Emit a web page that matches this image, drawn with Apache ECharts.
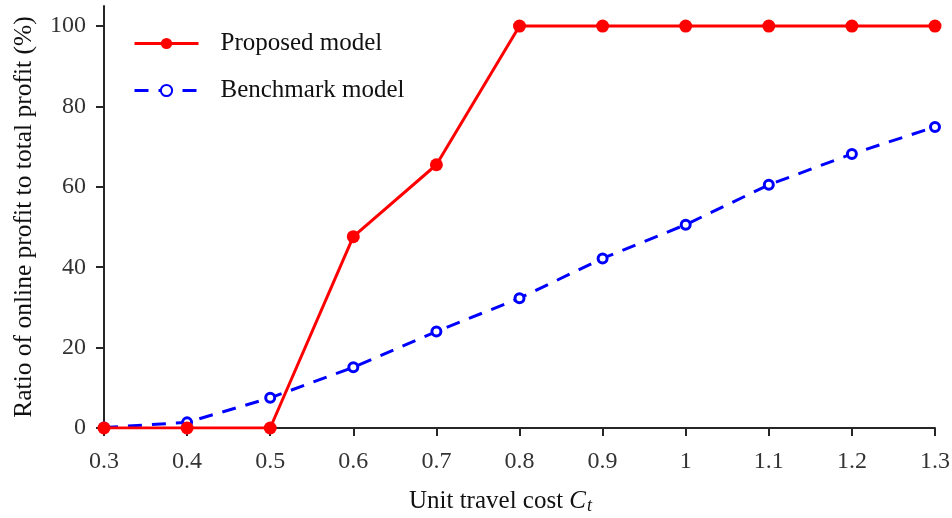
<!DOCTYPE html>
<html><head><meta charset="utf-8">
<script src="https://cdn.jsdelivr.net/npm/echarts@6/dist/echarts.min.js"></script>
<style>html,body{margin:0;padding:0;background:#fff}#c{width:952px;height:518px}</style>
</head><body><div id="c"></div>
<script>
const categories = ['0.3','0.4','0.5','0.6','0.7','0.8','0.9','1','1.1','1.2','1.3'];
const proposed = [0, 0, 0, 47.6, 65.5, 100, 100, 100, 100, 100, 100];
const benchmark = [0.1, 1.4, 7.5, 15.1, 24.0, 32.3, 42.2, 50.6, 60.5, 68.2, 74.9];
const yTicks = [0, 20, 40, 60, 80, 100];

const font = 'Liberation Serif';
const axisColor = '#262626';
const chart = echarts.init(document.getElementById('c'));
chart.setOption({
  animation: false,
  grid: { left: 104, right: 17, top: 6, bottom: 90, containLabel: false, outerBoundsMode: 'none' },
  legend: {
    left: 128, top: 26, orient: 'vertical',
    itemWidth: 64, itemHeight: 14, itemGap: 22,
    lineStyle: { width: 3 },
    textStyle: { fontFamily: font, fontSize: 25, color: '#111', padding: [0,0,0,17], lineHeight: 25 },
    data: ['Proposed model', 'Benchmark model']
  },
  xAxis: {
    type: 'category', data: categories, boundaryGap: false,
    axisLine: { lineStyle: { color: axisColor, width: 2 } },
    axisTick: { inside: false, length: 8, lineStyle: { color: axisColor, width: 2 } },
    axisLabel: { fontFamily: font, fontSize: 24, color: '#333', margin: 22 },
    name: '{n|Unit travel cost }{c|C}{t|t}',
    nameLocation: 'middle', nameGap: 60,
    nameTextStyle: {
      padding: [0, 38, 0, 0],
      rich: {
        n: { fontFamily: font, fontSize: 25, color: '#111' },
        c: { fontFamily: font, fontSize: 25, fontStyle: 'italic', color: '#111' },
        t: { fontFamily: font, fontSize: 18, fontStyle: 'italic', color: '#111', verticalAlign: 'bottom', padding: [9,0,0,1] }
      }
    }
  },
  yAxis: {
    type: 'value', min: 0, max: 105, interval: 20,
    splitLine: { show: false },
    axisLine: { show: true, lineStyle: { color: axisColor, width: 2 } },
    axisTick: { show: true, length: 8, customValues: yTicks, lineStyle: { color: axisColor, width: 2 } },
    axisLabel: { fontFamily: font, fontSize: 24, color: '#333', margin: 18, customValues: yTicks },
    name: 'Ratio of online profit to total profit (%)',
    nameLocation: 'middle', nameGap: 67,
    nameTextStyle: { fontFamily: font, fontSize: 25.5, color: '#111' }
  },
  series: [
    {
      name: 'Proposed model', type: 'line', data: proposed,
      symbol: 'circle', symbolSize: 13,
      lineStyle: { color: '#ff0000', width: 3 },
      itemStyle: { color: '#ff0000' },
      z: 3
    },
    {
      name: 'Benchmark model', type: 'line', data: benchmark,
      symbol: 'circle', symbolSize: 9,
      lineStyle: { color: '#0000ff', width: 3, type: [14, 10] },
      itemStyle: { color: '#ffffff', borderColor: '#0000ff', borderWidth: 3 },
      z: 2
    }
  ]
});
</script></body></html>
